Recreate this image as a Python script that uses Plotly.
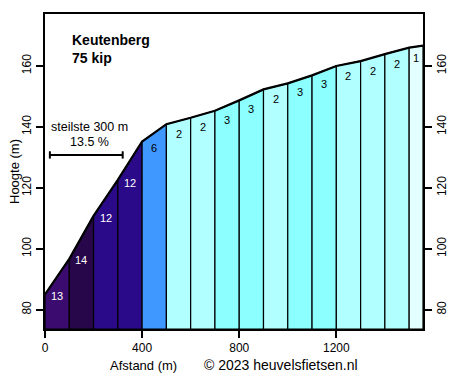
import plotly.graph_objects as go

# Data
distances = [0, 100, 200, 300, 400, 500, 600, 700, 800, 900, 1000, 1100, 1200, 1300, 1400, 1500, 1557]
elevations = [85.0, 96.7, 110.8, 122.6, 135.2, 140.9, 143.0, 145.3, 148.7, 152.3, 154.3, 156.9, 160.0, 161.6, 163.9, 166.0, 166.7]
gradients = [13, 14, 12, 12, 6, 2, 2, 3, 3, 2, 3, 3, 2, 2, 2, 1]
grad_colors = {1: "#e4ffff", 2: "#b2ffff", 3: "#8cffff", 6: "#3f98ff",
               12: "#2a0a88", 13: "#3b0b70", 14: "#28064a"}
x_ticks = [0, 400, 800, 1200]
y_ticks = [80, 100, 120, 140, 160]
title_lines = ["Keutenberg", "75 kip"]
steep_text = ["steilste 300 m", "13.5 %"]
steep_bar = [20, 320]
steep_level = 130.8

Y_MIN, Y_MAX = 73.67, 177.05
X_MAX = distances[-1]
FONT = "Liberation Sans, Arial, sans-serif"

fig = go.Figure()

for i, g in enumerate(gradients):
    x0, x1 = distances[i], distances[i + 1]
    e0, e1 = elevations[i], elevations[i + 1]
    fig.add_trace(go.Scatter(
        x=[x0, x0, x1, x1, x0], y=[Y_MIN, e0, e1, Y_MIN, Y_MIN],
        fill="toself", fillcolor=grad_colors[g], mode="lines",
        line=dict(color="black", width=1.2), hoverinfo="skip", showlegend=False))

fig.add_trace(go.Scatter(x=distances, y=elevations, mode="lines",
                         line=dict(color="black", width=2.2), hoverinfo="skip", showlegend=False))

# steepest bar
fig.add_trace(go.Scatter(x=steep_bar, y=[steep_level, steep_level], mode="lines",
                         line=dict(color="black", width=2), hoverinfo="skip", showlegend=False))
for xb in steep_bar:
    fig.add_trace(go.Scatter(x=[xb, xb], y=[steep_level - 1.2, steep_level + 1.2], mode="lines",
                             line=dict(color="black", width=2), hoverinfo="skip", showlegend=False))

# dummy for right axis
fig.add_trace(go.Scatter(x=[0], y=[Y_MIN], yaxis="y2", mode="markers",
                         marker=dict(opacity=0), hoverinfo="skip", showlegend=False))

annotations = []
for i, g in enumerate(gradients):
    xc = (distances[i] + distances[i + 1]) / 2
    shift = -(11 - 0.7 * g)
    annotations.append(dict(x=xc, y=elevations[i], xref="x", yref="y", text=str(g),
                            showarrow=False, yshift=shift,
                            font=dict(family=FONT, size=11, color="white" if g >= 10 else "black")))

annotations += [
    dict(x=25 / 378, y=1 - 26 / 315, xref="paper", yref="paper", xanchor="left", yanchor="middle",
         text="<b>%s</b>" % title_lines[0], showarrow=False, font=dict(family=FONT, size=14, color="black")),
    dict(x=25 / 378, y=1 - 44 / 315, xref="paper", yref="paper", xanchor="left", yanchor="middle",
         text="<b>%s</b>" % title_lines[1], showarrow=False, font=dict(family=FONT, size=14, color="black")),
    dict(x=(89 - 45) / 378, y=1 - (127 - 14) / 315, xref="paper", yref="paper", xanchor="center", yanchor="middle",
         text=steep_text[0], showarrow=False, font=dict(family=FONT, size=12.5, color="black")),
    dict(x=(89 - 45) / 378, y=1 - (142 - 14) / 315, xref="paper", yref="paper", xanchor="center", yanchor="middle",
         text=steep_text[1], showarrow=False, font=dict(family=FONT, size=12.5, color="black")),
    dict(x=(143 - 45) / 378, y=-(365 - 329) / 315, xref="paper", yref="paper", xanchor="center", yanchor="middle",
         text="Afstand (m)", showarrow=False, font=dict(family=FONT, size=13, color="black")),
    dict(x=(281 - 45) / 378, y=-(365 - 329) / 315, xref="paper", yref="paper", xanchor="center", yanchor="middle",
         text="© 2023 heuvelsfietsen.nl", showarrow=False, font=dict(family=FONT, size=14, color="black")),
    dict(x=-(45 - 14) / 378, y=1 - (172 - 14) / 315, xref="paper", yref="paper", xanchor="center", yanchor="middle",
         text="Hoogte (m)", textangle=-90, showarrow=False, font=dict(family=FONT, size=13, color="black")),
]

axis_common = dict(showgrid=False, zeroline=False, showline=True, linecolor="black", linewidth=2,
                   ticks="outside", ticklen=7, tickwidth=1.5, tickcolor="black", automargin=False,
                   tickfont=dict(family=FONT, size=12, color="black"))

# page body has an 8px margin, so the figure is offset by (8, 8)
fig.update_layout(
    width=455, height=368,
    margin=dict(l=37, r=40, t=6, b=47, autoexpand=False),
    paper_bgcolor="white", plot_bgcolor="white",
    showlegend=False,
    xaxis=dict(range=[0, X_MAX], tickvals=x_ticks, mirror=True, **axis_common),
    yaxis=dict(range=[Y_MIN, Y_MAX], tickvals=y_ticks, tickangle=-90, **axis_common),
    yaxis2=dict(range=[Y_MIN, Y_MAX], tickvals=y_ticks, tickangle=-90, overlaying="y", side="right",
                **axis_common),
    annotations=annotations,
)

fig.write_html("out.html")
